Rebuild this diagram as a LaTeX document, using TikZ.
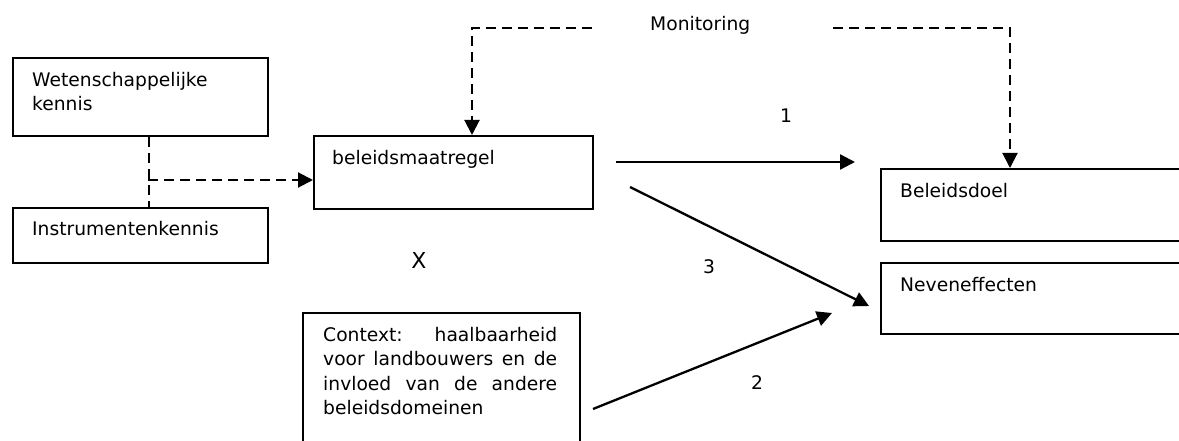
\documentclass[tikz,border=0pt]{standalone}
\usepackage{fontspec}
\setmainfont{DejaVu Sans}
\usetikzlibrary{arrows.meta}
\tikzset{
  box/.style={draw, line width=2pt, anchor=north west, inner sep=0pt},
  txt/.style={anchor=base west, inner sep=0pt, font=\fontsize{18.7}{24}\selectfont},
  mtxt/.style={txt, text width=#1, align=left},
  num/.style={anchor=base, inner sep=0pt, font=\fontsize{18.7}{24}\selectfont},
  dashline/.style={line width=2pt, dash pattern=on 10pt off 6pt},
  dasharrow/.style={dashline, -{Triangle[length=15pt,width=15pt]}},
  solidarrow/.style={line width=2.3pt, -{Triangle[length=15pt,width=15pt]}}
}
\begin{document}
\begin{tikzpicture}[x=1pt,y=-1pt]
\clip (0,0) rectangle (1179,441);
% boxes
\node[box, minimum width=255pt, minimum height=78pt] (wk) at (12,57) {};
\node[box, minimum width=255pt, minimum height=55pt] (ik) at (12,207) {};
\node[box, minimum width=279pt, minimum height=73pt] (bm) at (313,135) {};
\node[box, minimum width=340pt, minimum height=72pt] (bd) at (880,168) {};
\node[box, minimum width=340pt, minimum height=71pt] (ne) at (880,262) {};
\node[box, minimum width=277pt, minimum height=160pt] (cx) at (302,312) {};
% box texts
\node[mtxt=225pt] (wkt) at ([xshift=20pt,yshift=-30pt]wk.north west) {Wetenschappelijke\\kennis};
\node[txt] (ikt) at ([xshift=20pt,yshift=-29pt]ik.north west) {Instrumentenkennis};
\node[txt] (bmt) at ([xshift=19pt,yshift=-30pt]bm.north west) {beleidsmaatregel};
\node[txt] (bdt) at ([xshift=20pt,yshift=-29pt]bd.north west) {Beleidsdoel};
\node[txt] (net) at ([xshift=20pt,yshift=-29pt]ne.north west) {Neveneffecten};
\node[txt, text width=234pt, align=justify, font=\fontsize{18.7}{24.5}\selectfont] (cxt) at ([xshift=21pt,yshift=-29pt]cx.north west)
  {\hyphenpenalty=10000 Context: haalbaarheid\linebreak voor landbouwers en de\linebreak invloed van de andere\linebreak beleidsdomeinen};
% free labels
\node[txt] (mon) at (650,31) {Monitoring};
\node[num, font=\fontsize{22}{26}\selectfont] (x) at (419,269) {X};
\node[num] (n1) at (786,123) {1};
\node[num] (n3) at (709,273) {3};
\node[num] (n2) at (757,389) {2};
% knowledge connector
\draw[dashline] ([xshift=8.5pt]wk.south) -- ([xshift=8.5pt]ik.north);
\coordinate (j) at (148,180);
\draw[dasharrow] (j) -- (j -| bm.west);
% monitoring connectors
\coordinate (ml) at (592,28);
\coordinate (mr) at (833,28);
\draw[dasharrow] (ml) -| ([xshift=159pt]bm.north west);
\draw[dasharrow] (mr) -| ([xshift=130pt]bd.north west);
% effect arrows
\coordinate (a1s) at (616,162);
\coordinate (a1e) at (855,162);
\draw[solidarrow] (a1s) -- (a1e);
\coordinate (a3s) at (630,187);
\coordinate (a3e) at (869,306);
\draw[solidarrow] (a3s) -- (a3e);
\coordinate (a2s) at (593,409);
\coordinate (a2e) at (832,313);
\draw[solidarrow] (a2s) -- (a2e);
\end{tikzpicture}
\end{document}
